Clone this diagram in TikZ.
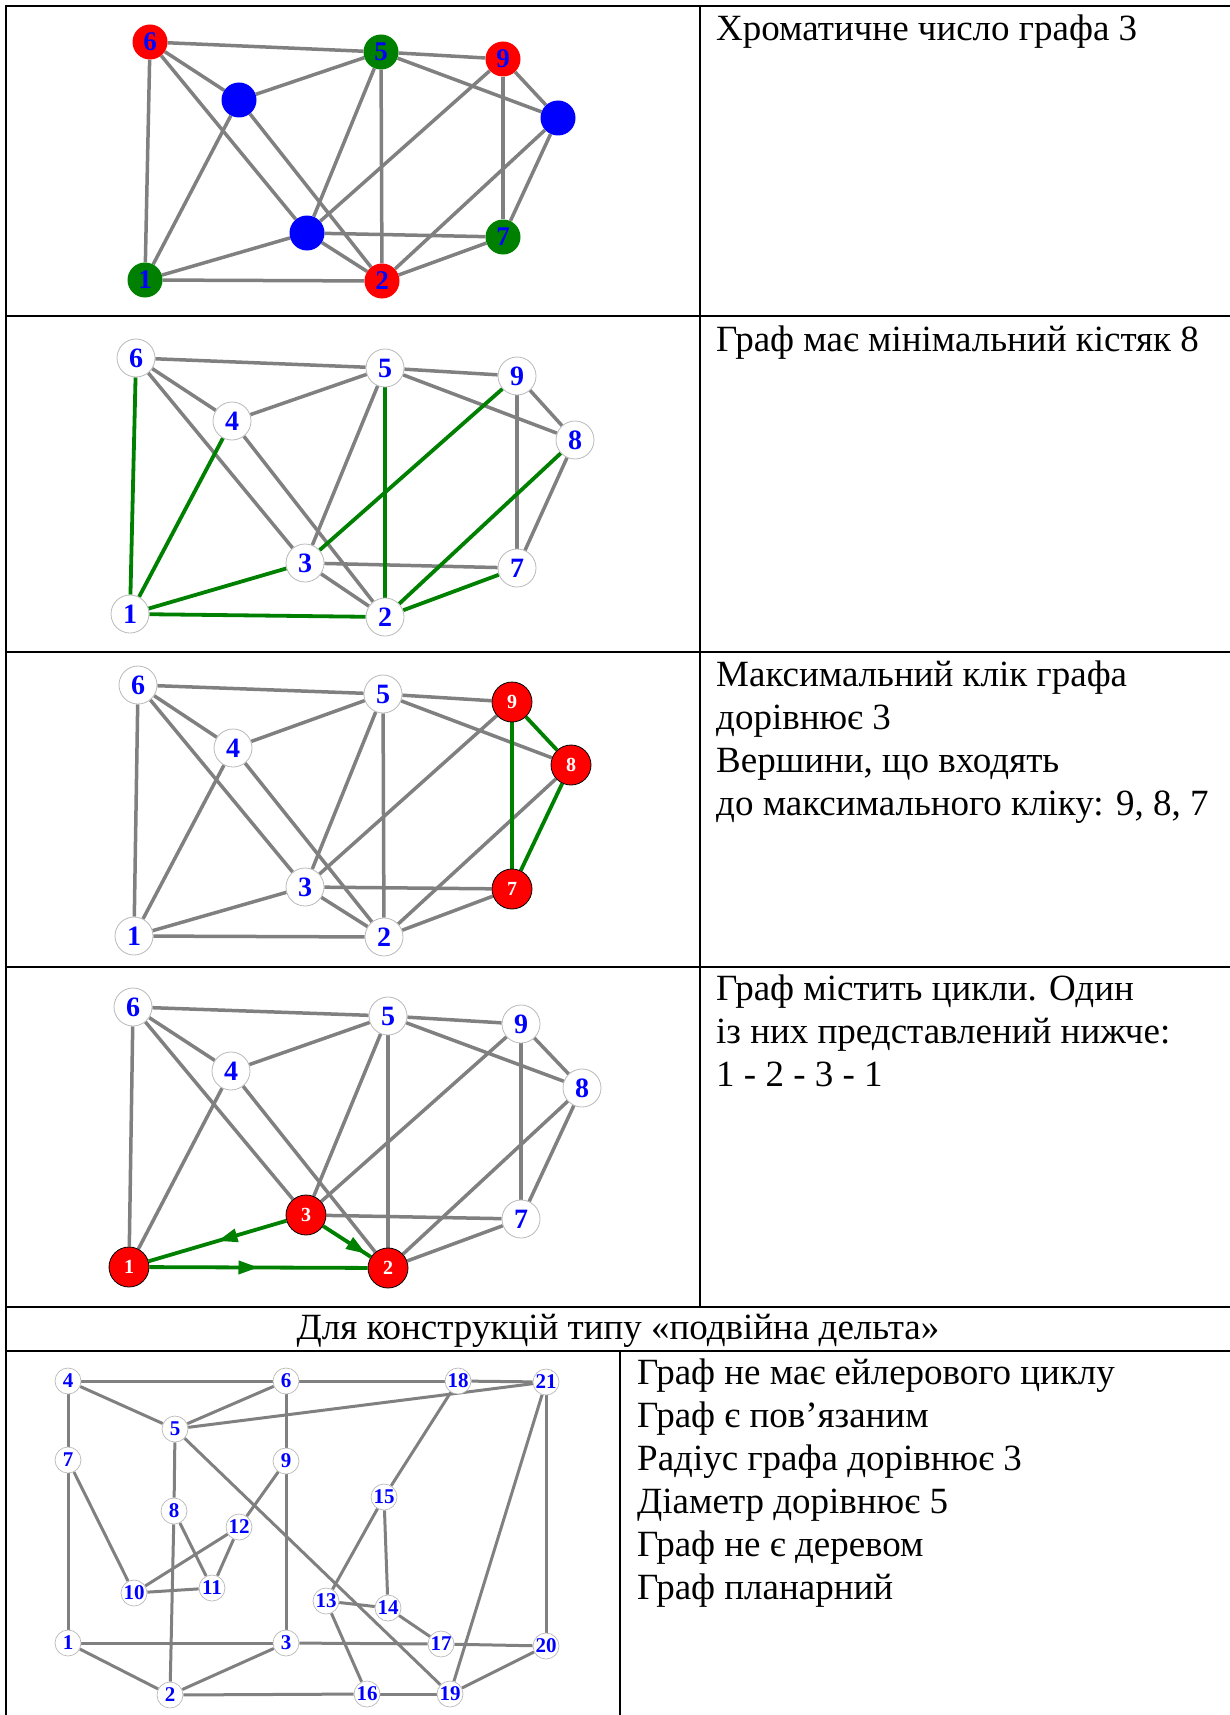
\documentclass[tikz,border=0pt]{standalone}
\usepackage{fontspec}
\setmainfont{Liberation Serif}
\usetikzlibrary{arrows.meta,decorations.markings,backgrounds}
\definecolor{edgegray}{RGB}{128,128,128}
\definecolor{treegreen}{RGB}{0,128,0}
\definecolor{nodegray}{RGB}{185,185,185}
\definecolor{pblue}{RGB}{0,0,255}
\definecolor{pred}{RGB}{255,0,0}
\begin{document}
\begin{tikzpicture}[x=1pt,y=-1pt,
  gl/.style={draw=edgegray,line width=3.5pt},
  gn/.style={draw=treegreen,line width=3.8pt},
  wv/.style={circle,draw=nodegray,line width=0.8pt,fill=white,minimum size=38pt,inner sep=0pt,font=\fontsize{28}{28}\bfseries,text=pblue},
  rv/.style={circle,draw=black,line width=0.8pt,fill=pred,minimum size=40pt,inner sep=0pt,font=\fontsize{20}{20}\bfseries,text=white},
  cv/.style={circle,minimum size=35pt,inner sep=0pt,font=\fontsize{27}{27}\bfseries,text=pblue},
  sv/.style={circle,draw=nodegray,line width=0.7pt,fill=white,minimum size=26pt,inner sep=0pt,font=\fontsize{21}{21}\bfseries,text=pblue},
  txt/.style={anchor=base west,inner sep=0pt,font=\fontsize{37}{43}\selectfont},
  tbl/.style={line width=2.2pt,draw=black},
  midarrow/.style={postaction={decorate},decoration={markings,mark=at position #1 with {\arrow{Triangle[length=20pt,width=13pt]}}}},
]
\useasboundingbox (0,0) rectangle (1230,1715);

% ---------- table lines ----------
\draw[tbl] (6,6) -- (1230,6);
\draw[tbl] (6,316) -- (1230,316);
\draw[tbl] (6,652) -- (1230,652);
\draw[tbl] (6,967) -- (1230,967);
\draw[tbl] (6,1307) -- (1230,1307);
\draw[tbl] (6,1351) -- (1230,1351);
\draw[tbl] (6,5) -- (6,1715);
\draw[tbl] (700,5) -- (700,1307);
\draw[tbl] (620,1351) -- (620,1715);

% ---------- graph 1: colouring ----------
\node[cv,fill=pred] (a6) at (150,42) {6};
\node[cv,fill=treegreen] (a5) at (381,52) {5};
\node[cv,fill=pred] (a9) at (503,59) {9};
\node[cv,fill=pblue] (a4) at (239,100) {};
\node[cv,fill=pblue] (a8) at (558,118) {};
\node[cv,fill=pblue] (a3) at (307,233) {};
\node[cv,fill=treegreen] (a7) at (503,237) {7};
\node[cv,fill=treegreen] (a1) at (145,280) {1};
\node[cv,fill=pred] (a2) at (382,281) {2};

% ---------- graph 2: spanning tree ----------
\node[wv] (b6) at (136,358) {6};
\node[wv] (b5) at (385,368) {5};
\node[wv] (b9) at (517,376) {9};
\node[wv] (b4) at (232,421) {4};
\node[wv] (b8) at (575,440) {8};
\node[wv] (b3) at (305,563) {3};
\node[wv] (b7) at (517,568) {7};
\node[wv] (b1) at (130,614) {1};
\node[wv] (b2) at (385,617) {2};

% ---------- graph 3: clique ----------
\node[wv] (c6) at (138,685) {6};
\node[wv] (c5) at (383,694) {5};
\node[rv] (c9) at (512,702) {9};
\node[wv] (c4) at (233,748) {4};
\node[rv] (c8) at (571,765) {8};
\node[wv] (c3) at (305,887) {3};
\node[rv] (c7) at (512,889) {7};
\node[wv] (c1) at (134,936) {1};
\node[wv] (c2) at (384,937) {2};

% ---------- graph 4: cycle ----------
\node[wv] (d6) at (133,1007) {6};
\node[wv] (d5) at (388,1016) {5};
\node[wv] (d9) at (521,1024) {9};
\node[wv] (d4) at (231,1071) {4};
\node[wv] (d8) at (582,1088) {8};
\node[rv] (d3) at (306,1215) {3};
\node[wv] (d7) at (521,1219) {7};
\node[rv] (d1) at (129,1267) {1};
\node[rv] (d2) at (388,1268) {2};

% ---------- graph 5: double delta ----------
\node[sv] (e4) at (68,1381) {4};
\node[sv] (e6) at (286,1381) {6};
\node[sv] (e18) at (458,1381) {18};
\node[sv] (e21) at (546,1382) {21};
\node[sv] (e5) at (175,1429) {5};
\node[sv] (e7) at (68,1460) {7};
\node[sv] (e9) at (286,1461) {9};
\node[sv] (e15) at (384,1497) {15};
\node[sv] (e8) at (174,1511) {8};
\node[sv] (e12) at (239,1527) {12};
\node[sv] (e10) at (134,1593) {10};
\node[sv] (e11) at (212,1588) {11};
\node[sv] (e13) at (326,1601) {13};
\node[sv] (e14) at (388,1608) {14};
\node[sv] (e1) at (68,1643) {1};
\node[sv] (e3) at (286,1643) {3};
\node[sv] (e17) at (441,1644) {17};
\node[sv] (e20) at (546,1646) {20};
\node[sv] (e2) at (170,1695) {2};
\node[sv] (e16) at (367,1694) {16};
\node[sv] (e19) at (450,1694) {19};

\begin{scope}[on background layer]
  % graph 1
  \foreach \u/\v in {6/5,5/9,6/1,6/4,6/3,4/5,4/1,4/2,5/3,5/2,5/8,9/3,9/7,9/8,8/7,8/2,3/7,3/2,3/1,1/2,2/7}
    \draw[gl] (a\u) -- (a\v);
  % graph 2
  \foreach \u/\v in {6/5,5/9,6/4,6/3,4/5,4/2,5/3,5/8,9/7,9/8,8/7,3/7,3/2}
    \draw[gl] (b\u) -- (b\v);
  \foreach \u/\v in {6/1,4/1,5/2,9/3,8/2,3/1,1/2,2/7}
    \draw[gn] (b\u) -- (b\v);
  % graph 3
  \foreach \u/\v in {6/5,5/9,6/1,6/4,6/3,4/5,4/1,4/2,5/3,5/2,5/8,9/3,8/2,3/7,3/2,3/1,1/2,2/7}
    \draw[gl] (c\u) -- (c\v);
  \foreach \u/\v in {9/8,9/7,8/7}
    \draw[gn] (c\u) -- (c\v);
  % graph 4
  \foreach \u/\v in {6/5,5/9,6/1,6/4,6/3,4/5,4/1,4/2,5/3,5/2,5/8,9/3,9/7,9/8,8/7,8/2,3/7,2/7}
    \draw[gl] (d\u) -- (d\v);
  % graph 5
  \foreach \u/\v in {4/6,6/18,18/21,4/5,6/5,5/21,4/7,7/1,7/10,6/9,9/3,9/12,5/8,5/19,8/2,8/11,12/10,12/11,10/11,18/15,15/13,15/14,13/14,13/16,14/17,1/3,3/17,17/20,1/2,2/3,2/16,16/19,21/20,21/19,20/19}
    \draw[gl,line width=3pt] (e\u) -- (e\v);
\end{scope}
% graph 4 directed cycle
\draw[gn,midarrow=0.5,treegreen] (d1) -- (d2);
\draw[gn,midarrow=0.5,treegreen] (d3) -- (d1);
\draw[gn,midarrow=0.9,treegreen] (d3) -- (d2);

% ---------- texts ----------
\node[txt] (t1) at (716,41) {Хроматичне число графа 3};
\node[txt] (t2) at (716,351) {Граф має мінімальний кістяк 8};
\node[txt] (t31) at (716,686) {Максимальний клік графа};
\node[txt] (t32) at (716,729) {дорівнює 3};
\node[txt] (t33) at (716,772) {Вершини, що входять};
\node[txt] (t34) at (716,815) {до максимального кліку: 9, 8, 7};
\node[txt] (t41) at (716,1000) {Граф містить цикли. Один};
\node[txt] (t42) at (716,1043) {із них представлений нижче:};
\node[txt] (t43) at (716,1086) {1 - 2 - 3 - 1};
\node[txt,anchor=base] (th) at (618,1339) {Для конструкцій типу «подвійна дельта»};
\node[txt] (t51) at (637,1384) {Граф не має ейлерового циклу};
\node[txt] (t52) at (637,1427) {Граф є пов’язаним};
\node[txt] (t53) at (637,1470) {Радіус графа дорівнює 3};
\node[txt] (t54) at (637,1513) {Діаметр дорівнює 5};
\node[txt] (t55) at (637,1556) {Граф не є деревом};
\node[txt] (t56) at (637,1599) {Граф планарний};
\end{tikzpicture}
\end{document}
